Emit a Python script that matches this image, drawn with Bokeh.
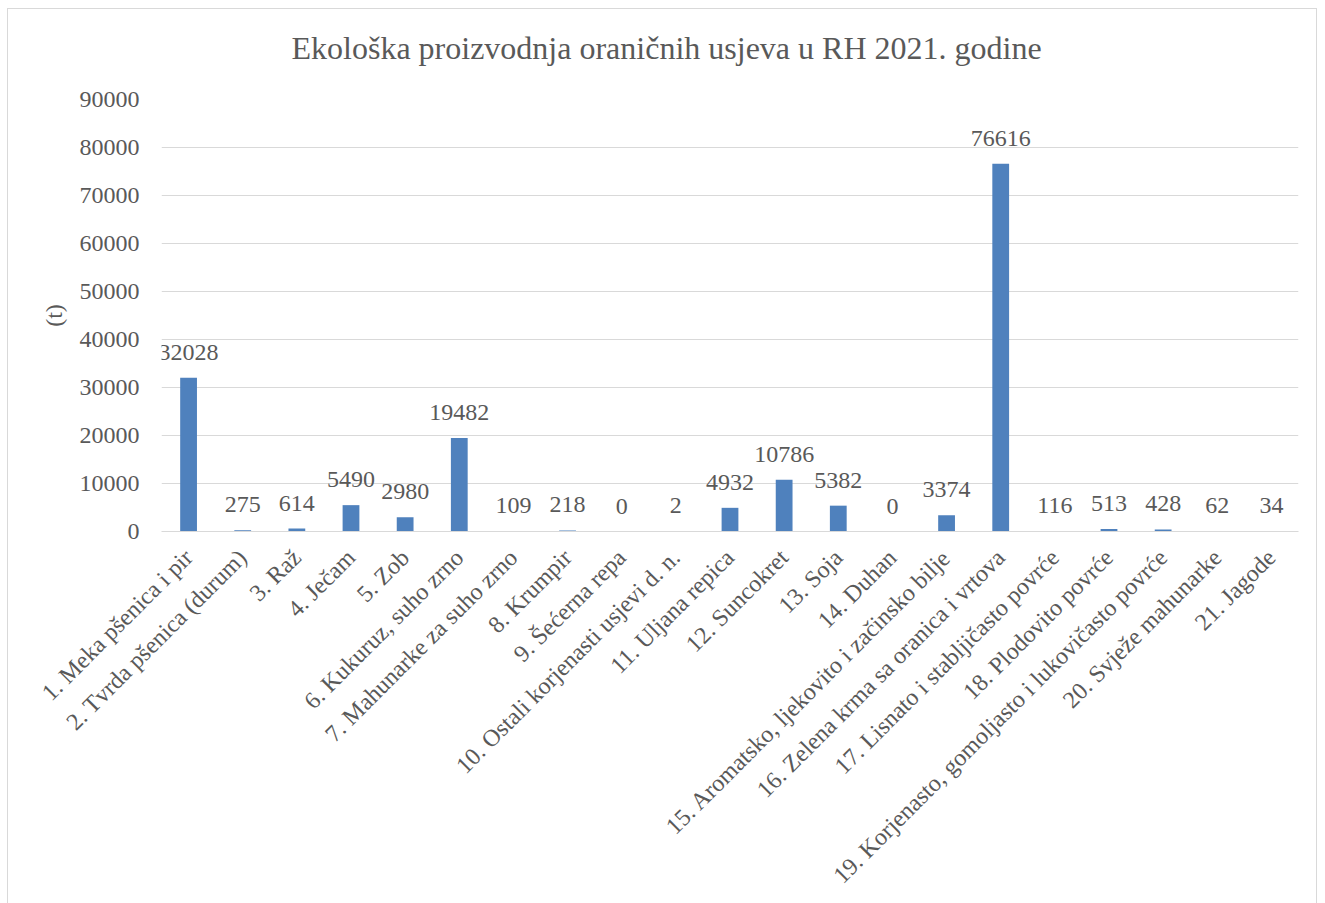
import math
from bokeh.plotting import figure
from bokeh.models import ColumnDataSource, Range1d, FixedTicker, BasicTickFormatter, Title
from bokeh.core.properties import value
from bokeh.embed import file_html
from bokeh.resources import INLINE

title_text = "Ekološka proizvodnja oraničnih usjeva u RH 2021. godine"
categories = [
    "1. Meka pšenica i pir",
    "2. Tvrda pšenica (durum)",
    "3. Raž",
    "4. Ječam",
    "5. Zob",
    "6. Kukuruz, suho zrno",
    "7. Mahunarke za suho zrno",
    "8. Krumpir",
    "9. Šećerna repa",
    "10. Ostali korjenasti usjevi d. n.",
    "11. Uljana repica",
    "12. Suncokret",
    "13. Soja",
    "14. Duhan",
    "15. Aromatsko, ljekovito i začinsko bilje",
    "16. Zelena krma sa oranica i vrtova",
    "17. Lisnato i stabljičasto povrće",
    "18. Plodovito povrće",
    "19. Korjenasto, gomoljasto i lukovičasto povrće",
    "20. Svježe mahunarke",
    "21. Jagode",
]
values = [32028, 275, 614, 5490, 2980, 19482, 109, 218, 0, 2, 4932,
          10786, 5382, 0, 3374, 76616, 116, 513, 428, 62, 34]
y_ticks = [0, 10000, 20000, 30000, 40000, 50000, 60000, 70000, 80000, 90000]

FONT = "Liberation Serif"
TXT = "#595959"
GRID = "#d9d9d9"
BAR = "#4f81bd"

source = ColumnDataSource(dict(cat=categories, val=values, lbl=[str(v) for v in values]))

p = figure(
    x_range=categories,
    y_range=Range1d(0, 90000),
    width=1310, height=895,
    output_backend="svg", toolbar_location=None,
    min_border_left=153, min_border_right=20, min_border_top=90, min_border_bottom=373,
    title=title_text,
)
p.margin = (8, 0, 0, 7)
p.styles = {"border-top": "1px solid #d9d9d9", "border-left": "1px solid #d9d9d9",
            "border-right": "1px solid #d9d9d9", "box-sizing": "border-box"}
p.outline_line_color = None
p.background_fill_color = "white"
p.border_fill_color = "white"

# empty spacer between the title and the plot frame
p.add_layout(Title(text=" ", text_font_size="16px", standoff=10), "above")

p.title.text_font = FONT
p.title.text_font_size = "32px"
p.title.text_font_style = "normal"
p.title.text_color = TXT
p.title.align = "left"
p.title.offset = 130
p.title.standoff = 10

p.vbar(x="cat", top="val", width=0.31, source=source, color=BAR, line_color=None)
p.text(x="cat", y="val", text="lbl", source=source, text_align="center",
       text_baseline="bottom", y_offset=-18, text_font=value(FONT),
       text_font_size="24px", text_color=TXT)

p.xgrid.grid_line_color = None
p.ygrid.grid_line_color = GRID
p.ygrid.grid_line_width = 1

p.yaxis.ticker = FixedTicker(ticks=y_ticks)
p.yaxis.formatter = BasicTickFormatter(use_scientific=False)
p.yaxis.axis_line_color = None
p.yaxis.major_tick_line_color = None
p.yaxis.minor_tick_line_color = None
p.yaxis.major_tick_out = 0
p.yaxis.major_tick_in = 0
p.yaxis.major_label_standoff = 22
p.yaxis.major_label_text_font = FONT
p.yaxis.major_label_text_font_size = "24px"
p.yaxis.major_label_text_color = TXT
p.yaxis.axis_label = "(t)"
p.yaxis.axis_label_text_font = FONT
p.yaxis.axis_label_text_font_size = "24px"
p.yaxis.axis_label_text_font_style = "normal"
p.yaxis.axis_label_text_color = TXT
p.yaxis.axis_label_standoff = 10

p.xaxis.axis_line_color = GRID
p.xaxis.axis_line_width = 1
p.xaxis.major_tick_line_color = None
p.xaxis.minor_tick_line_color = None
p.xaxis.major_tick_out = 0
p.xaxis.major_tick_in = 0
p.xaxis.major_label_orientation = math.pi / 4
p.xaxis.major_label_standoff = 22
p.xaxis.major_label_text_font = FONT
p.xaxis.major_label_text_font_size = "24px"
p.xaxis.major_label_text_color = TXT

open("out.html", "w").write(file_html(p, INLINE))
